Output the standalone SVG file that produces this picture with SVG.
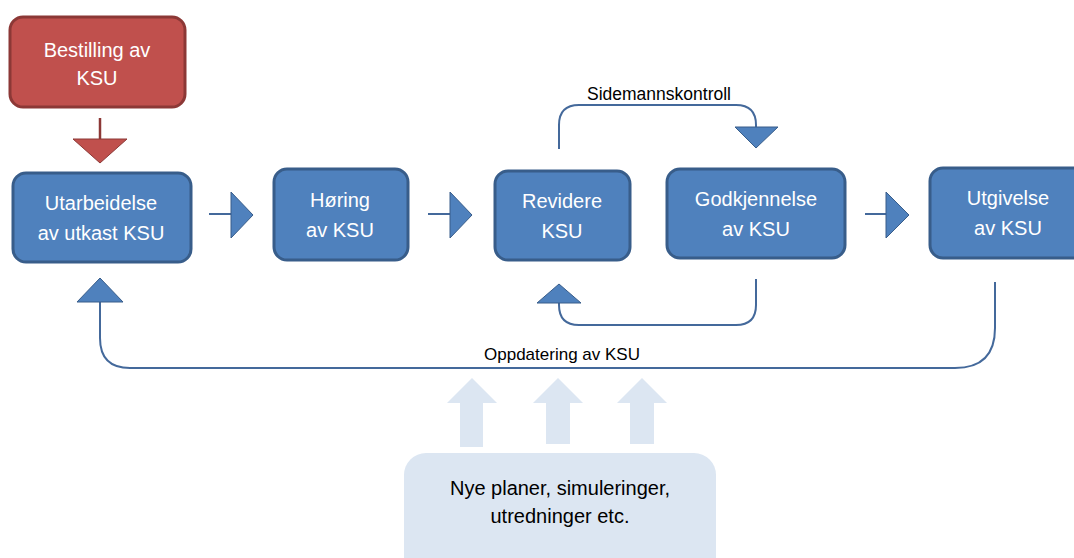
<svg xmlns="http://www.w3.org/2000/svg" width="1074" height="558" viewBox="0 0 1074 558">
<style>
.box{fill:#4f81bd;stroke:#385d8a;stroke-width:3}
.red{fill:#c0504d;stroke:#8c3836;stroke-width:3}
.wt{fill:#ffffff;font-family:"Liberation Sans",Arial,sans-serif;font-size:20px;text-anchor:middle}
.bt{fill:#000000;font-family:"Liberation Sans",Arial,sans-serif;text-anchor:middle}
.ln{fill:none;stroke:#44699b;stroke-width:2}
.tri{fill:#4f81bd;stroke:#385d8a;stroke-width:1}
.lb{fill:#dce6f2}
</style>
<rect width="1074" height="558" fill="#ffffff"/>
<g id="connectors">
  <line x1="100" y1="118" x2="100" y2="140" stroke="#8c3836" stroke-width="2.5"/>
  <polygon points="73,139 127,139 100,163" fill="#c0504d" stroke="#8c3836" stroke-width="1"/>
  <line class="ln" x1="209" y1="214" x2="232" y2="214"/>
  <polygon class="tri" points="231,192 253,215 231,238"/>
  <line class="ln" x1="428" y1="214" x2="451" y2="214"/>
  <polygon class="tri" points="450,192 472,215 450,238"/>
  <line class="ln" x1="865" y1="214" x2="887" y2="214"/>
  <polygon class="tri" points="886,192 909,215 886,238"/>
  <path class="ln" d="M559,149 V125 Q559,105 579,105 H736 Q756,105 756,125 V128"/>
  <polygon class="tri" points="735,127 778,127 756,148"/>
  <path class="ln" d="M756,279 V305 Q756,325 736,325 H579 Q559,325 559,305 V302"/>
  <polygon class="tri" points="537,303 581,303 559,284"/>
  <path class="ln" d="M995,282 V328 Q995,368 955,368 H130 Q100,368 100,338 V301"/>
  <polygon class="tri" points="77,302 123,302 100,278"/>
  <text class="bt" x="659" y="100" font-size="17.5">Sidemannskontroll</text>
  <text class="bt" x="562" y="360" font-size="17">Oppdatering av KSU</text>
  <polygon class="lb" points="460,447 483,447 483,403 497,403 472,378 447,403 460,403"/>
  <polygon class="lb" points="546,444 570,444 570,403 583,403 558,378 533,403 546,403"/>
  <polygon class="lb" points="630,444 654,444 654,403 667,403 642,378 617,403 630,403"/>
</g>
<g id="bestilling">
  <rect class="red" x="10" y="17" width="175" height="90" rx="13"/>
  <text class="wt" x="97" y="57">Bestilling av</text>
  <text class="wt" x="97" y="85">KSU</text>
</g>
<g id="utarbeidelse">
  <rect class="box" x="13" y="173" width="178" height="89" rx="13"/>
  <text class="wt" x="101" y="210">Utarbeidelse</text>
  <text class="wt" x="101" y="240">av utkast KSU</text>
</g>
<g id="horing">
  <rect class="box" x="274" y="169" width="134" height="91" rx="13"/>
  <text class="wt" x="340" y="207">Høring</text>
  <text class="wt" x="340" y="237">av KSU</text>
</g>
<g id="revidere">
  <rect class="box" x="495" y="171" width="135" height="89" rx="13"/>
  <text class="wt" x="562" y="208">Revidere</text>
  <text class="wt" x="562" y="238">KSU</text>
</g>
<g id="godkjennelse">
  <rect class="box" x="667" y="169" width="178" height="89" rx="13"/>
  <text class="wt" x="756" y="206">Godkjennelse</text>
  <text class="wt" x="756" y="236">av KSU</text>
</g>
<g id="utgivelse">
  <rect class="box" x="930" y="168" width="170" height="90" rx="13"/>
  <text class="wt" x="1008" y="205">Utgivelse</text>
  <text class="wt" x="1008" y="235">av KSU</text>
</g>
<g id="nye">
  <rect class="lb" x="404" y="453" width="312" height="130" rx="22"/>
  <text class="bt" x="560" y="495" font-size="20">Nye planer, simuleringer,</text>
  <text class="bt" x="560" y="523" font-size="20">utredninger etc.</text>
</g>
</svg>
